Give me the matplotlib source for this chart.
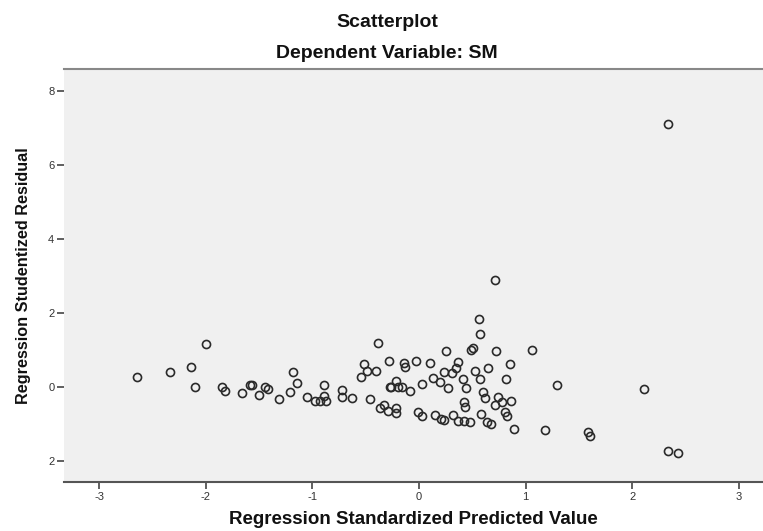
import matplotlib
matplotlib.use("Agg")
import matplotlib.pyplot as plt

plt.rcParams['font.family'] = ['Liberation Sans', 'DejaVu Sans']

# standardized predicted value (x) and studentized residual (y)
pred = [-2.65, -2.34, -2.14, -2.00, -2.10, -1.85, -1.82, -1.66, -1.59,
        -1.57, -1.50, -1.44, -1.42, -1.31, -1.21, -1.18, -1.14, -1.05, -0.98,
        -0.93, -0.89, -0.89, -0.87, -0.72, -0.72, -0.63, -0.46, -0.38, -0.52,
        -0.54, -0.49, -0.40, -0.28, -0.27, -0.22, -0.20, -0.37, -0.33, -0.29,
        -0.22, -0.22,
        0.71, 0.56, 0.57, 0.25, 0.49, 0.51, 0.72, 1.06, -0.14, -0.13, -0.03,
        0.10, 0.37, 0.35, 0.31, 0.23, 0.53, 0.65, 0.85, 0.13, 0.20, 0.27,
        0.41, 0.44, 0.57, 0.82, 0.03, -0.16, -0.08, -0.26, 0.60, 0.62, 0.42,
        0.43, 0.74, 0.78, 0.86, 0.71, -0.01, 0.03, 0.15, 0.21, 0.23, 0.32,
        0.37, 0.42, 0.48, 0.58, 0.64, 0.68, 0.81, 0.83, 0.89, 1.18,
        2.34, 1.29, 2.11, 1.59, 1.60, 2.34, 2.43]
resid = [0.28, 0.41, 0.54, 1.16, 0.00, 0.01, -0.10, -0.16, 0.05,
         0.05, -0.22, 0.01, -0.06, -0.32, -0.14, 0.39, 0.11, -0.28, -0.37,
         -0.39, 0.05, -0.24, -0.39, -0.08, -0.27, -0.31, -0.32, 1.18, 0.62,
         0.26, 0.44, 0.42, 0.70, -0.01, 0.16, -0.01, -0.56, -0.49, -0.65,
         -0.56, -0.71,
         2.89, 1.83, 1.42, 0.97, 1.00, 1.06, 0.98, 0.99, 0.64, 0.54, 0.69,
         0.64, 0.66, 0.51, 0.37, 0.40, 0.42, 0.51, 0.61, 0.25, 0.14, -0.02,
         0.22, -0.02, 0.21, 0.21, 0.09, 0.01, -0.11, 0.01, -0.13, -0.30, -0.40,
         -0.55, -0.27, -0.41, -0.37, -0.50, -0.69, -0.78, -0.77, -0.86, -0.89, -0.76,
         -0.92, -0.92, -0.94, -0.73, -0.94, -1.00, -0.68, -0.78, -1.13, -1.17,
         7.11, 0.05, -0.05, -1.23, -1.34, -1.73, -1.78]

xticks = [-3, -2, -1, 0, 1, 2, 3]
xticklabels = ['-3', '-2', '-1', '0', '1', '2', '3']
yticks = [-2, 0, 2, 4, 6, 8]
yticklabels = ['2', '0', '2', '4', '6', '8']

fig = plt.figure(figsize=(7.63, 5.31), dpi=100)
ax = fig.add_axes([0.0839, 0.0923, 0.9161, 0.7778])
ax.set_facecolor('#f0f0f0')

ax.plot(pred, resid, linestyle='none', marker='o', markersize=5.8,
        markerfacecolor='none', markeredgecolor='#2a2a2a', markeredgewidth=1.2)

ax.set_xlim(-3.33, 3.227)
ax.set_ylim(-2.57, 8.59)
ax.set_xticks(xticks)
ax.set_xticklabels(xticklabels)
ax.set_yticks(yticks)
ax.set_yticklabels(yticklabels)
ax.tick_params(axis='both', direction='out', length=5, width=1.2,
               color='#444444', labelsize=8, labelcolor='#333333', pad=2)

for side in ['right', 'left']:
    ax.spines[side].set_visible(False)
ax.spines['top'].set_color('#888888')
ax.spines['top'].set_linewidth(1.5)
ax.spines['bottom'].set_color('#555555')
ax.spines['bottom'].set_linewidth(1.5)

fig.text(0.507, 0.958, 'Scatterplot', ha='center', va='center',
         fontsize=14, fontweight='bold', color='#111111')
fig.text(0.507, 0.899, 'Dependent Variable: SM', ha='center', va='center',
         fontsize=14, fontweight='bold', color='#111111')
ax.set_xlabel('Regression Standardized Predicted Value', fontsize=13.5,
              fontweight='bold', color='#111111', labelpad=7)
ax.set_ylabel('Regression Studentized Residual', fontsize=11.7,
              fontweight='bold', color='#111111', labelpad=12)

fig.savefig('out.png', dpi=100)
